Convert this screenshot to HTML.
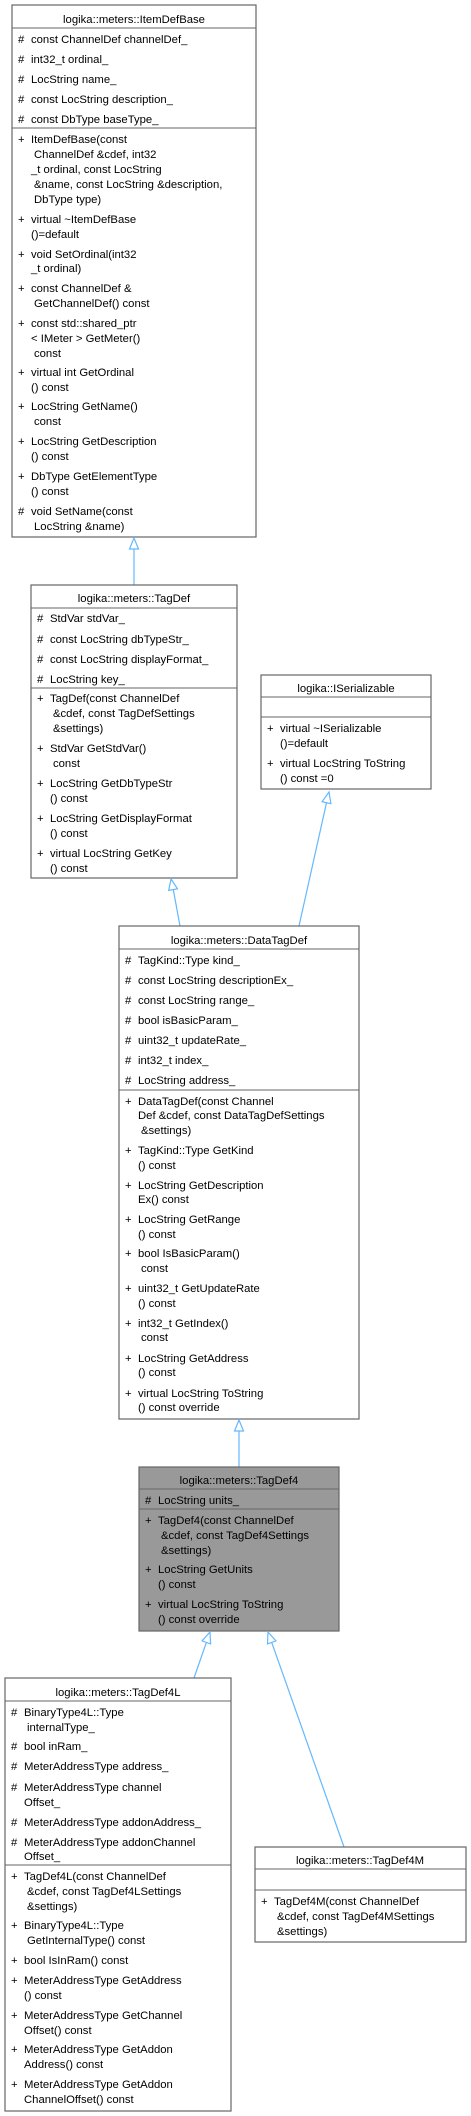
<!DOCTYPE html>
<html><head><meta charset="utf-8"><style>
html,body{margin:0;padding:0;background:#fff;}
svg{display:block;}
text{font-family:"Liberation Sans",sans-serif;font-size:11.3px;fill:#000;}
.t{text-anchor:middle;}
.b{fill:#fff;stroke:#666;stroke-width:1.2;}
.l{stroke:#666;stroke-width:1;}
.e{stroke:#63b8ff;stroke-width:1.2;fill:none;}
.a{stroke:#63b8ff;stroke-width:1.2;fill:#fff;}
</style></head><body>
<svg width="471" height="2116" viewBox="0 0 471 2116">
<!-- ItemDefBase -->
<rect class="b" x="12" y="5" width="244" height="532"/>
<line class="l" x1="12" y1="28" x2="256" y2="28"/>
<line class="l" x1="12" y1="128" x2="256" y2="128"/>
<text class="t" x="134" y="23">logika::meters::ItemDefBase</text>
<text x="18" y="43">#</text><text x="31" y="43">const ChannelDef channelDef_</text>
<text x="18" y="63">#</text><text x="31" y="63">int32_t ordinal_</text>
<text x="18" y="83">#</text><text x="31" y="83">LocString name_</text>
<text x="18" y="103">#</text><text x="31" y="103">const LocString description_</text>
<text x="18" y="123">#</text><text x="31" y="123">const DbType baseType_</text>
<text x="18" y="143">+</text><text x="31" y="143">ItemDefBase(const</text>
<text x="34" y="158">ChannelDef &amp;cdef, int32</text>
<text x="31" y="173">_t ordinal, const LocString</text>
<text x="34" y="188">&amp;name, const LocString &amp;description,</text>
<text x="34" y="203">DbType type)</text>
<text x="18" y="223">+</text><text x="31" y="223">virtual ~ItemDefBase</text>
<text x="31" y="238">()=default</text>
<text x="18" y="258">+</text><text x="31" y="258">void SetOrdinal(int32</text>
<text x="31" y="272">_t ordinal)</text>
<text x="18" y="292">+</text><text x="31" y="292">const ChannelDef &amp;</text>
<text x="34" y="307">GetChannelDef() const</text>
<text x="18" y="327">+</text><text x="31" y="327">const std::shared_ptr</text>
<text x="31" y="342">&lt; IMeter &gt; GetMeter()</text>
<text x="34" y="357">const</text>
<text x="18" y="376">+</text><text x="31" y="376">virtual int GetOrdinal</text>
<text x="31" y="391">() const</text>
<text x="18" y="410">+</text><text x="31" y="410">LocString GetName()</text>
<text x="34" y="425">const</text>
<text x="18" y="445">+</text><text x="31" y="445">LocString GetDescription</text>
<text x="31" y="460">() const</text>
<text x="18" y="480">+</text><text x="31" y="480">DbType GetElementType</text>
<text x="31" y="495">() const</text>
<text x="18" y="515">#</text><text x="31" y="515">void SetName(const</text>
<text x="34" y="530">LocString &amp;name)</text>

<!-- arrow ItemDefBase <- TagDef -->
<line class="e" x1="134" y1="549" x2="134" y2="585"/>
<polygon class="a" points="134,538 138.5,549 129.5,549"/>

<!-- TagDef -->
<rect class="b" x="31" y="585" width="206" height="293"/>
<line class="l" x1="31" y1="608" x2="237" y2="608"/>
<line class="l" x1="31" y1="688" x2="237" y2="688"/>
<text class="t" x="134" y="602">logika::meters::TagDef</text>
<text x="37" y="622">#</text><text x="50" y="622">StdVar stdVar_</text>
<text x="37" y="643">#</text><text x="50" y="643">const LocString dbTypeStr_</text>
<text x="37" y="663">#</text><text x="50" y="663">const LocString displayFormat_</text>
<text x="37" y="683">#</text><text x="50" y="683">LocString key_</text>
<text x="37" y="702">+</text><text x="50" y="702">TagDef(const ChannelDef</text>
<text x="53" y="717">&amp;cdef, const TagDefSettings</text>
<text x="53" y="732">&amp;settings)</text>
<text x="37" y="752">+</text><text x="50" y="752">StdVar GetStdVar()</text>
<text x="53" y="767">const</text>
<text x="37" y="787">+</text><text x="50" y="787">LocString GetDbTypeStr</text>
<text x="50" y="802">() const</text>
<text x="37" y="822">+</text><text x="50" y="822">LocString GetDisplayFormat</text>
<text x="50" y="837">() const</text>
<text x="37" y="857">+</text><text x="50" y="857">virtual LocString GetKey</text>
<text x="50" y="872">() const</text>

<!-- ISerializable -->
<rect class="b" x="261" y="675" width="170" height="114"/>
<line class="l" x1="261" y1="697" x2="431" y2="697"/>
<line class="l" x1="261" y1="717" x2="431" y2="717"/>
<text class="t" x="346" y="692">logika::ISerializable</text>
<text x="267" y="732">+</text><text x="280" y="732">virtual ~ISerializable</text>
<text x="280" y="747">()=default</text>
<text x="267" y="767">+</text><text x="280" y="767">virtual LocString ToString</text>
<text x="280" y="782">() const =0</text>

<!-- arrows to DataTagDef -->
<line class="e" x1="180" y1="926" x2="173.3" y2="889.6"/>
<polygon class="a" points="171,879 177.5,888.8 168.7,890.4"/>
<line class="e" x1="299" y1="926" x2="326.5" y2="802.7"/>
<polygon class="a" points="329,792 330.9,803.7 322.1,801.7"/>

<!-- DataTagDef -->
<rect class="b" x="119" y="926" width="240" height="493"/>
<line class="l" x1="119" y1="949" x2="359" y2="949"/>
<line class="l" x1="119" y1="1090" x2="359" y2="1090"/>
<text class="t" x="239" y="944">logika::meters::DataTagDef</text>
<text x="125" y="964">#</text><text x="138" y="964">TagKind::Type kind_</text>
<text x="125" y="984">#</text><text x="138" y="984">const LocString descriptionEx_</text>
<text x="125" y="1004">#</text><text x="138" y="1004">const LocString range_</text>
<text x="125" y="1024">#</text><text x="138" y="1024">bool isBasicParam_</text>
<text x="125" y="1044">#</text><text x="138" y="1044">uint32_t updateRate_</text>
<text x="125" y="1064">#</text><text x="138" y="1064">int32_t index_</text>
<text x="125" y="1084">#</text><text x="138" y="1084">LocString address_</text>
<text x="125" y="1105">+</text><text x="138" y="1105">DataTagDef(const Channel</text>
<text x="138" y="1119">Def &amp;cdef, const DataTagDefSettings</text>
<text x="141" y="1134">&amp;settings)</text>
<text x="125" y="1154">+</text><text x="138" y="1154">TagKind::Type GetKind</text>
<text x="138" y="1169">() const</text>
<text x="125" y="1189">+</text><text x="138" y="1189">LocString GetDescription</text>
<text x="138" y="1203">Ex() const</text>
<text x="125" y="1223">+</text><text x="138" y="1223">LocString GetRange</text>
<text x="138" y="1238">() const</text>
<text x="125" y="1257">+</text><text x="138" y="1257">bool IsBasicParam()</text>
<text x="141" y="1272">const</text>
<text x="125" y="1292">+</text><text x="138" y="1292">uint32_t GetUpdateRate</text>
<text x="138" y="1307">() const</text>
<text x="125" y="1327">+</text><text x="138" y="1327">int32_t GetIndex()</text>
<text x="141" y="1341">const</text>
<text x="125" y="1362">+</text><text x="138" y="1362">LocString GetAddress</text>
<text x="138" y="1376">() const</text>
<text x="125" y="1397">+</text><text x="138" y="1397">virtual LocString ToString</text>
<text x="138" y="1411">() const override</text>

<!-- arrow DataTagDef <- TagDef4 -->
<line class="e" x1="239" y1="1431" x2="239" y2="1467"/>
<polygon class="a" points="239,1420 243.5,1431 234.5,1431"/>

<!-- TagDef4 -->
<rect x="139" y="1467" width="200" height="164" fill="#999" stroke="#666" stroke-width="1.2"/>
<line class="l" x1="139" y1="1489" x2="339" y2="1489"/>
<line class="l" x1="139" y1="1509" x2="339" y2="1509"/>
<text class="t" x="239" y="1484">logika::meters::TagDef4</text>
<text x="145" y="1504">#</text><text x="158" y="1504">LocString units_</text>
<text x="145" y="1524">+</text><text x="158" y="1524">TagDef4(const ChannelDef</text>
<text x="161" y="1539">&amp;cdef, const TagDef4Settings</text>
<text x="161" y="1554">&amp;settings)</text>
<text x="145" y="1573">+</text><text x="158" y="1573">LocString GetUnits</text>
<text x="158" y="1588">() const</text>
<text x="145" y="1608">+</text><text x="158" y="1608">virtual LocString ToString</text>
<text x="158" y="1623">() const override</text>

<!-- arrows from TagDef4L / TagDef4M -->
<line class="e" x1="194" y1="1678" x2="206.4" y2="1642.4"/>
<polygon class="a" points="210,1632 210.6,1643.9 202.1,1640.9"/>
<line class="e" x1="344" y1="1847" x2="271.7" y2="1642.4"/>
<polygon class="a" points="268,1632 275.9,1640.9 267.5,1643.9"/>

<!-- TagDef4L -->
<rect class="b" x="5" y="1678" width="226" height="433"/>
<line class="l" x1="5" y1="1701" x2="231" y2="1701"/>
<line class="l" x1="5" y1="1865" x2="231" y2="1865"/>
<text class="t" x="118" y="1696">logika::meters::TagDef4L</text>
<text x="11" y="1716">#</text><text x="24" y="1716">BinaryType4L::Type</text>
<text x="27" y="1731">internalType_</text>
<text x="11" y="1750">#</text><text x="24" y="1750">bool inRam_</text>
<text x="11" y="1770">#</text><text x="24" y="1770">MeterAddressType address_</text>
<text x="11" y="1791">#</text><text x="24" y="1791">MeterAddressType channel</text>
<text x="24" y="1806">Offset_</text>
<text x="11" y="1826">#</text><text x="24" y="1826">MeterAddressType addonAddress_</text>
<text x="11" y="1846">#</text><text x="24" y="1846">MeterAddressType addonChannel</text>
<text x="24" y="1860">Offset_</text>
<text x="11" y="1880">+</text><text x="24" y="1880">TagDef4L(const ChannelDef</text>
<text x="27" y="1895">&amp;cdef, const TagDef4LSettings</text>
<text x="27" y="1910">&amp;settings)</text>
<text x="11" y="1929">+</text><text x="24" y="1929">BinaryType4L::Type</text>
<text x="27" y="1944">GetInternalType() const</text>
<text x="11" y="1964">+</text><text x="24" y="1964">bool IsInRam() const</text>
<text x="11" y="1984">+</text><text x="24" y="1984">MeterAddressType GetAddress</text>
<text x="24" y="1999">() const</text>
<text x="11" y="2019">+</text><text x="24" y="2019">MeterAddressType GetChannel</text>
<text x="24" y="2034">Offset() const</text>
<text x="11" y="2053">+</text><text x="24" y="2053">MeterAddressType GetAddon</text>
<text x="24" y="2068">Address() const</text>
<text x="11" y="2088">+</text><text x="24" y="2088">MeterAddressType GetAddon</text>
<text x="24" y="2103">ChannelOffset() const</text>

<!-- TagDef4M -->
<rect class="b" x="255" y="1847" width="211" height="95"/>
<line class="l" x1="255" y1="1869" x2="466" y2="1869"/>
<line class="l" x1="255" y1="1890" x2="466" y2="1890"/>
<text class="t" x="360" y="1864">logika::meters::TagDef4M</text>
<text x="261" y="1905">+</text><text x="274" y="1905">TagDef4M(const ChannelDef</text>
<text x="277" y="1920">&amp;cdef, const TagDef4MSettings</text>
<text x="277" y="1935">&amp;settings)</text>
</svg>
</body></html>
